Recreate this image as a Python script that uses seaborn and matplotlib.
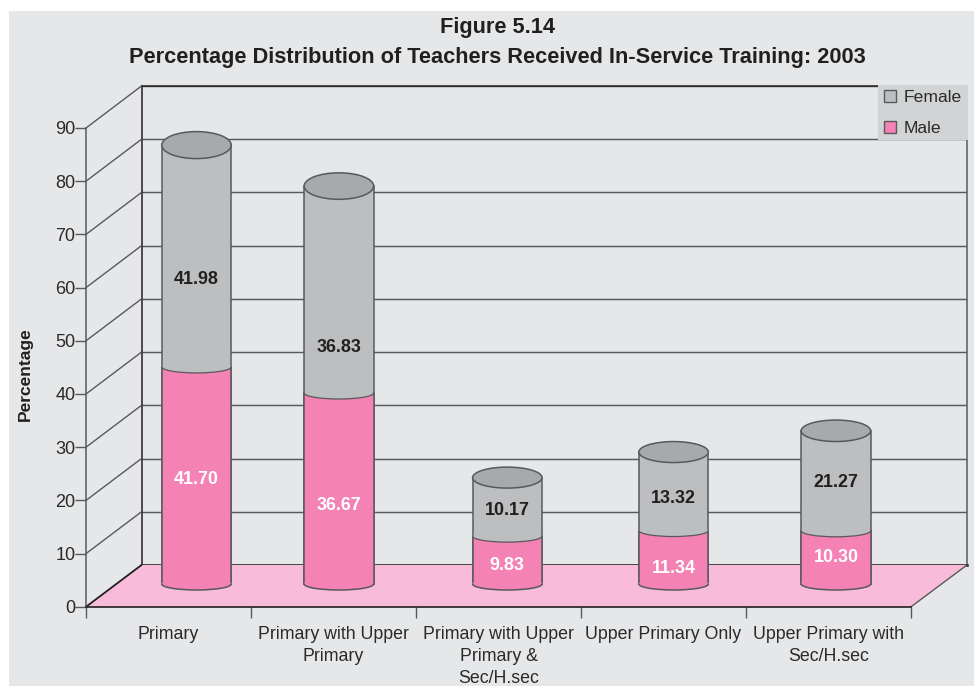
import matplotlib
matplotlib.use("Agg")
import matplotlib.pyplot as plt
import numpy as np
import pandas as pd
import seaborn as sns
from matplotlib.lines import Line2D
from matplotlib.patches import Arc, Ellipse, Patch, Polygon, Rectangle
from matplotlib.transforms import IdentityTransform

# ---- data -----------------------------------------------------------------
categories = ["Primary", "Primary with Upper\nPrimary",
              "Primary with Upper\nPrimary &\nSec/H.sec",
              "Upper Primary Only", "Upper Primary with\nSec/H.sec"]
# printed labels
male_labels = ["41.70", "36.67", "9.83", "11.34", "10.30"]
female_labels = ["41.98", "36.83", "10.17", "13.32", "21.27"]
# segment heights as they read against the axis
male_height = [40.8, 35.9, 9.0, 10.05, 10.0]
female_height = [41.7, 38.9, 11.0, 14.75, 18.8]
y_ticks = [0, 10, 20, 30, 40, 50, 60, 70, 80, 90]

# ---- layout (pixels / style) ----------------------------------------------
W, H = 974, 686
BG, GREY, GREY_TOP, PINK, FLOOR = "#e6e7e8", "#bcbec0", "#a7a9ac", "#f482b5", "#f8bbd9"
LINE, DARK, TXT = "#58595b", "#231f20", "#2b2a2b"
bar_nudge_px = [0, -22.6, -19.2, -17.9, -20.6]
top_ellipse_px = [27, 26.5, 21, 21, 21.5]
female_label_y = [57.3, 44.5, 13.9, 16.1, 19.1]
male_label_y = [19.7, 14.7, 3.4, 3.0, 4.9]

sns.set_theme(style="white")
plt.rcParams["font.family"] = ["Liberation Sans", "DejaVu Sans"]

fig = plt.figure(figsize=(W / 100, H / 100), dpi=100, facecolor="white")
fig.add_artist(Rectangle((8.5 / W, 0), 1 - 8.5 / W, 1 - 11 / H, transform=fig.transFigure,
                         facecolor=BG, edgecolor="none", zorder=-10))


def box(left, right, top, bottom):
    return [left / W, 1 - bottom / H, (right - left) / W, (bottom - top) / H]


ax_back = fig.add_axes(box(141.5, 967, 86, 565), zorder=1)
ax_front = fig.add_axes(box(86, 911, 128, 606.8), zorder=3)
ax_bars = fig.add_axes(box(114, 939, 105.2, 584), zorder=4)

n = len(categories)
for a in (ax_back, ax_front, ax_bars):
    a.set_xlim(-0.5, n - 0.5)
    a.set_ylim(0, 90)
    a.patch.set_visible(False)

# back wall
ax_back.set_yticks(y_ticks)
ax_back.set_xticks([])
ax_back.tick_params(axis="y", length=0, labelleft=False)
ax_back.grid(axis="y", color=LINE, lw=1.05)
for s in ax_back.spines.values():
    s.set_visible(True)
    s.set_color(LINE)
    s.set_linewidth(1.1)
ax_back.spines["bottom"].set_color(DARK)
ax_back.spines["bottom"].set_linewidth(1.8)
ax_back.spines["top"].set_color(DARK)
ax_back.spines["left"].set_color(DARK)

# front axis
sns.despine(ax=ax_front)
ax_front.spines["left"].set_color(LINE)
ax_front.spines["left"].set_linewidth(1.1)
ax_front.spines["bottom"].set_color(DARK)
ax_front.spines["bottom"].set_linewidth(1.2)
ax_front.set_yticks(y_ticks)
ax_front.set_yticklabels([str(v) for v in y_ticks], fontsize=13, color=TXT)
ax_front.tick_params(axis="y", left=True, length=8, width=1, color=LINE, pad=-0.5)
ax_front.set_xticks(np.arange(n))
ax_front.set_xticklabels(categories, fontsize=12.75, color=TXT, linespacing=1.42)
ax_front.set_xticks(np.arange(n + 1) - 0.5, minor=True)
ax_front.tick_params(axis="x", which="major", length=0, pad=13.5)
ax_front.tick_params(axis="x", which="minor", bottom=True, length=8, width=1, color=LINE)
ax_front.grid(False)
ax_bars.grid(False)

# floor and side-wall diagonals
fig.canvas.draw()
fx = ax_front.transData.transform
bx = ax_back.transData.transform
floor = [fx((-0.5, 0)), fx((n - 0.5, 0)), bx((n - 0.5, 0)), bx((-0.5, 0))]
fig.add_artist(Polygon(floor, closed=True, transform=IdentityTransform(),
                       facecolor=FLOOR, edgecolor="none", zorder=2))
for v in y_ticks:
    p, q = fx((-0.5, v)), bx((-0.5, v))
    fig.add_artist(Line2D([p[0], q[0]], [p[1], q[1]], transform=IdentityTransform(),
                          color=DARK if v == 0 else LINE, lw=1.3 if v == 0 else 1.0, zorder=2))
p, q = fx((n - 0.5, 0)), bx((n - 0.5, 0))
fig.add_artist(Line2D([p[0], q[0]], [p[1], q[1]], transform=IdentityTransform(),
                      color=LINE, lw=1.0, zorder=2))

# bars
df = pd.DataFrame({"category": categories, "male": male_height, "female": female_height})
df["total"] = df["male"] + df["female"]
bw = 69.5 / 165
for col, colr in (("total", GREY), ("male", PINK)):
    sns.barplot(data=df, x="category", y=col, order=categories, color=colr, saturation=1,
                width=bw, errorbar=None, edgecolor=LINE, linewidth=1.1, ax=ax_bars)
ax_bars.set_xlim(-0.5, n - 0.5)
ax_bars.set_ylim(0, 90)
ax_bars.axis("off")

unit_y = (584 - 105.2) / 90
for i, b in enumerate(ax_bars.patches):
    b.set_x(b.get_x() + bar_nudge_px[i % n] / 165)
    b.set_clip_on(False)
    b.set_zorder(3)

for i in range(n):
    cx = i + bar_nudge_px[i] / 165
    m, t = male_height[i], male_height[i] + female_height[i]
    low_h = 12 / unit_y
    # base
    ax_bars.add_patch(Ellipse((cx, 0), bw, low_h, facecolor=PINK, edgecolor="none", zorder=4, clip_on=False))
    ax_bars.add_patch(Arc((cx, 0), bw, low_h, theta1=180, theta2=360, color=LINE, lw=1.1, zorder=5, clip_on=False))
    # junction
    ax_bars.add_patch(Ellipse((cx, m), bw * 0.985, low_h, facecolor=GREY, edgecolor="none", zorder=4, clip_on=False))
    ax_bars.add_patch(Arc((cx, m), bw, low_h, theta1=180, theta2=360, color=LINE, lw=0.9, zorder=5, clip_on=False))
    # top cap
    ax_bars.add_patch(Ellipse((cx, t), bw, top_ellipse_px[i] / unit_y, facecolor=GREY_TOP,
                              edgecolor=LINE, lw=1.1, zorder=6, clip_on=False))
    ax_bars.text(cx, female_label_y[i], female_labels[i], ha="center", va="center",
                 fontsize=12.9, fontweight="bold", color=DARK, zorder=8)
    ax_bars.text(cx, male_label_y[i], male_labels[i], ha="center", va="center",
                 fontsize=12.9, fontweight="bold", color="white", zorder=8)

# texts
fig.text(497 / W, 1 - 27 / H, "Figure 5.14", ha="center", va="center", fontsize=15.7,
         fontweight="bold", color=DARK)
fig.text(497 / W, 1 - 57.5 / H, "Percentage Distribution of Teachers Received In-Service Training: 2003",
         ha="center", va="center", fontsize=15.7, fontweight="bold", color=DARK)
fig.text(25 / W, 1 - 374.5 / H, "Percentage", rotation=90, ha="center", va="center",
         fontsize=12.5, fontweight="bold", color=DARK)

# legend
fig.add_artist(Rectangle((877.5 / W, 1 - 140 / H), 90 / W, 54.5 / H, transform=fig.transFigure,
                         facecolor="#d1d3d4", edgecolor="none", zorder=5))
handles = [Patch(facecolor=GREY, edgecolor=LINE, lw=1), Patch(facecolor=PINK, edgecolor=LINE, lw=1)]
leg = fig.legend(handles, ["Female", "Male"], loc="upper left",
                 bbox_to_anchor=(884 / W, 1 - 90 / H), borderaxespad=0, borderpad=0, fontsize=12.6,
                 frameon=False, handlelength=0.68, handleheight=0.68, handletextpad=0.42,
                 labelspacing=0.92, labelcolor=TXT)
leg.set_zorder(6)

fig.savefig("out.png", dpi=100, facecolor="white")
